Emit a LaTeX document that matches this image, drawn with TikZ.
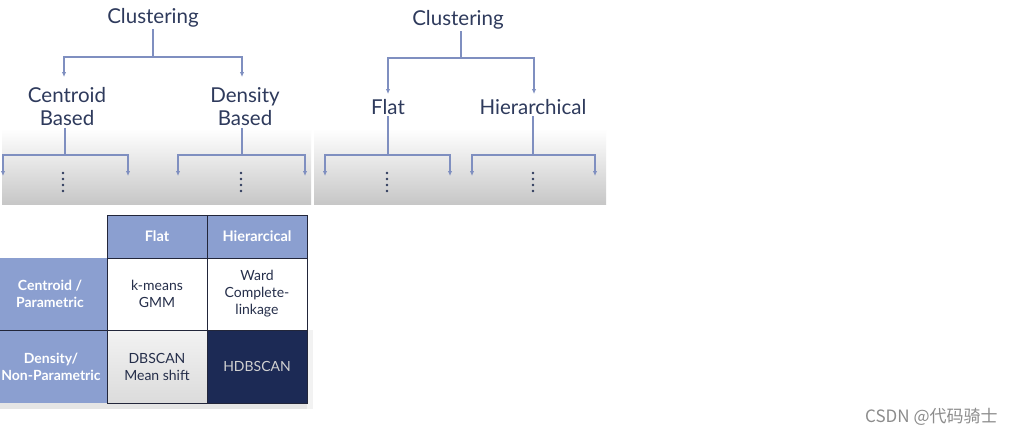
\documentclass[tikz,border=0pt]{standalone}
\usepackage{fontspec}
\setmainfont{Lato}
\newfontfamily\cjk{Noto Sans CJK SC}
\usetikzlibrary{arrows.meta}
\definecolor{txt}{HTML}{2E3A5C}
\definecolor{lnc}{HTML}{7F8FC0}
\definecolor{hdr}{HTML}{8B9FD0}
\definecolor{navy}{HTML}{1C2A55}
\definecolor{bord}{HTML}{22263A}
\begin{document}
\begin{tikzpicture}[x=1pt,y=-1pt,
  ttl/.style={font=\fontsize{20.5}{23}\selectfont, text=txt, align=center, inner sep=1.5pt},
  conn/.style={draw=lnc, line width=1.2pt},
  arr/.style={conn, -{Latex[length=5pt,width=4.5pt]}},
  cell/.style={draw=bord, line width=0.9pt, minimum width=100pt, align=center,
    font=\fontsize{14}{17}\selectfont, inner sep=0pt, outer sep=0pt},
  hcell/.style={fill=hdr, text=white, font=\bfseries\fontsize{14}{17.5}\selectfont, align=center, inner sep=0pt}
]
\useasboundingbox (0,0) rectangle (1018,434);
\fill[white] (0,0) rectangle (1018,434);
% panel backgrounds
\shade[top color=white, bottom color=black!22] (2,129) rectangle (311,204);
\shade[top color=white, bottom color=black!22] (314,129) rectangle (606,204);

% ---------- tree 1 ----------
\node[ttl] (c1) at (153,18) {Clustering};
\coordinate (j1) at (153,57);
\coordinate (a1) at (64,77);
\coordinate (a2) at (242,77);
\draw[conn] (c1.south) -- (j1);
\draw[arr] (j1) -| (a1);
\draw[arr] (j1) -| (a2);
\node[ttl] (cb) at (67,107) {Centroid\\Based};
\node[ttl] (db) at (245,107) {Density\\Based};
\coordinate (j2) at (65,155);
\coordinate (b1) at (3,176);
\coordinate (b2) at (128,176);
\draw[conn] (cb.south -| j2) -- (j2);
\draw[arr] (j2) -| (b1);
\draw[arr] (j2) -| (b2);
\coordinate (j3) at (242,155);
\coordinate (b3) at (178,176);
\coordinate (b4) at (305,176);
\draw[conn] (db.south -| j3) -- (j3);
\draw[arr] (j3) -| (b3);
\draw[arr] (j3) -| (b4);
\foreach \i in {0,...,3} {
  \fill[txt] (63,173+6*\i) circle (1.4pt);
  \fill[txt] (241,173+6*\i) circle (1.4pt);
}

% ---------- tree 2 ----------
\node[ttl] (c2) at (458,20) {Clustering};
\coordinate (k1) at (461,58);
\coordinate (d1) at (388,94);
\coordinate (d2) at (534,94);
\draw[conn] (c2.south -| k1) -- (k1);
\draw[arr] (k1) -| (d1);
\draw[arr] (k1) -| (d2);
\node[ttl] (fl) at (388,107) {Flat};
\node[ttl] (hi) at (533,107) {Hierarchical};
\coordinate (k2) at (388,155);
\coordinate (e1) at (325,176);
\coordinate (e2) at (450,176);
\draw[conn] (fl.south) -- (k2);
\draw[arr] (k2) -| (e1);
\draw[arr] (k2) -| (e2);
\coordinate (k3) at (533,155);
\coordinate (e3) at (472,176);
\coordinate (e4) at (595,176);
\draw[conn] (hi.south) -- (k3);
\draw[arr] (k3) -| (e3);
\draw[arr] (k3) -| (e4);
\foreach \i in {0,...,3} {
  \fill[txt] (387,173+6*\i) circle (1.4pt);
  \fill[txt] (533,173+6*\i) circle (1.4pt);
}

% ---------- table ----------
% shadow
\fill[black!10] (0,403) rectangle (313,409);
\fill[black!5] (307,330) rectangle (313,409);
% left column
\fill[hdr] (-8,258) rectangle (107,403);
\node[hcell] (lc1) at (50,294) {Centroid /\\Parametric};
\node[hcell] (lc2) at (51,367) {Density/\\Non-Parametric};
% header
\node[cell, fill=hdr, text=white, font=\bfseries\fontsize{14.5}{17}\selectfont, minimum height=43pt] (hf) at (157,236.5) {Flat};
\node[cell, fill=hdr, text=white, font=\bfseries\fontsize{14.5}{17}\selectfont, minimum height=43pt] (hh) at (257,236.5) {Hierarcical};
% body
\node[cell, fill=white, text=txt!80!black, minimum height=72pt] (km) at (157,294) {k-means\\GMM};
\node[cell, fill=white, text=txt!80!black, minimum height=72pt] (wd) at (257,294) {Ward\\Complete-\\linkage};
\shade[top color=black!5, bottom color=black!14] (107,330) rectangle (207,403);
\node[cell, text=txt!80!black, minimum height=73pt] (dbs) at (157,366.5) {DBSCAN\\Mean shift};
\node[cell, fill=navy, text=black!18, minimum height=73pt] (hdb) at (257,366.5) {HDBSCAN};
\draw[bord, line width=0.9pt] (0,330) -- (km.south west);

% watermark
\node[font=\cjk\fontsize{17}{19}\selectfont, text=black!45, anchor=west, inner sep=0pt] (wm) at (865,417) {CSDN @代码骑士};
\end{tikzpicture}
\end{document}
